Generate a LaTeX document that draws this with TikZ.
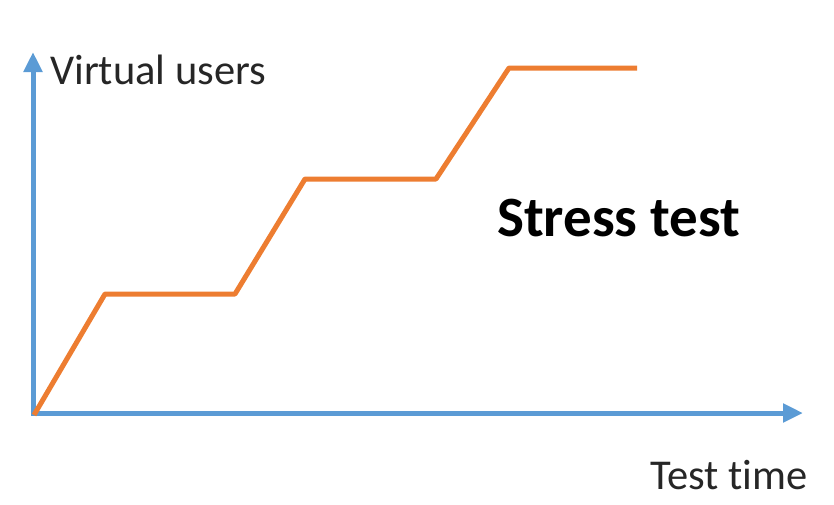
\documentclass[tikz,border=0pt]{standalone}
\usepackage{fontspec}
\setmainfont{Carlito}[Ligatures=NoCommon]
\usepackage{xcolor}
\usetikzlibrary{arrows.meta,positioning}
\definecolor{axisblue}{HTML}{5B9BD5}
\definecolor{loadorange}{HTML}{ED7D31}

\begin{document}
\begin{tikzpicture}[
    x=1pt, y=-1pt,
    axis/.style={draw=axisblue, line width=5pt,
      -{Triangle[length=20pt,width=18pt]}},
    load/.style={draw=loadorange, line width=5pt, line join=round},
    labl/.style={anchor=base west, inner sep=0pt, text=black!85,
      font=\fontsize{42.5}{50}\selectfont},
    title/.style={anchor=base west, inner sep=0pt, text=black,
      font=\fontsize{57}{66}\selectfont\bfseries}
  ]
    \useasboundingbox (0,0) rectangle (834,504);

    % ── Axes ─────────────────────────────────────────────────
    \coordinate (origin) at (33,413);
    \coordinate (ytop)   at (33,52);
    \coordinate (xend)   at (803,413);
    \draw[axis] (origin) -- (ytop);
    \draw[axis] ([xshift=-2.5pt]origin) -- (xend);

    % ── Load profile ─────────────────────────────────────────
    \coordinate (r1) at (105,294);
    \coordinate (h1) at (235,294);
    \coordinate (r2) at (305,179);
    \coordinate (h2) at (436,179);
    \coordinate (r3) at (509,68);
    \coordinate (h3) at (637,68);
    \draw[load] ([xshift=1pt,yshift=-2pt]origin) -- (r1) -- (h1) -- (r2)
                -- (h2) -- (r3) -- (h3);

    % ── Labels ───────────────────────────────────────────────
    \node[labl]  (ylabel) at (50,84)   {Virtual users};
    \node[labl]  (xlabel) at (650,489) {Test time};
    \node[title] (name)   at (497,236) {Stress test};
\end{tikzpicture}
\end{document}
